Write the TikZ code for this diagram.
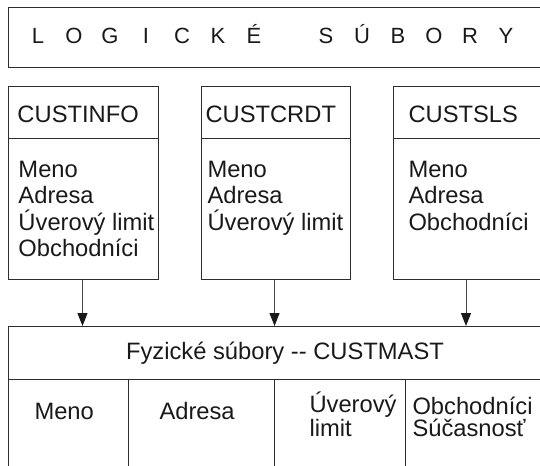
\documentclass[tikz,border=0pt]{standalone}
\usepackage{fontspec}
\setmainfont{Liberation Sans}
\usetikzlibrary{arrows.meta}

\definecolor{boxline}{RGB}{45,45,45}
\definecolor{arrline}{RGB}{70,70,70}
\definecolor{inktext}{RGB}{25,25,25}

\tikzset{every picture/.style={line width=0.75pt}}
\tikzset{
	filebox/.style={draw=boxline, anchor=north west, inner sep=0pt},
	lbl/.style={anchor=base west, inner sep=0pt, text=inktext, font=\fontsize{17.8}{20}\selectfont},
	twolbl/.style={lbl, align=left, font=\fontsize{17.8}{16.4}\selectfont},
	titlechar/.style={anchor=base, inner sep=0pt, text=inktext, font=\fontsize{16.5}{18}\selectfont},
	feed/.style={draw=arrline, -{Triangle[length=9.75pt,width=7.5pt,color=inktext]}}
}

\begin{document}
\begin{tikzpicture}[x=0.75pt,y=0.75pt,yscale=-1,xscale=1]
	\useasboundingbox (0,0) rectangle (540,465);
	\clip (0,0) rectangle (540,465);

	%Shape: Rectangle (title)
	\node[filebox, minimum width=414pt, minimum height=45pt] (logic) at (8,7) {};
	% Text Node
	\foreach \ch [count=\i from 0] in {L,O,G,I,C,K,É}
		\node[titlechar] (ta\i) at (38+36*\i,43) {\ch};
	\foreach \ch [count=\i from 8] in {S,Ú,B,O,R,Y}
		\node[titlechar] (tb\i) at (38+36*\i,43) {\ch};

	%Shape: Rectangle (CUSTINFO)
	\node[filebox, minimum width=112.5pt, minimum height=144.75pt] (custinfo) at (8,86) {};
	\draw[boxline] (8,138) -- (158,138);
	%Shape: Rectangle (CUSTCRDT)
	\node[filebox, minimum width=111.75pt, minimum height=144.75pt] (custcrdt) at (201,86) {};
	\draw[boxline] (201,138) -- (350,138);
	%Shape: Rectangle (CUSTSLS)
	\node[filebox, minimum width=125.25pt, minimum height=144.75pt] (custsls) at (393,86) {};
	\draw[boxline] (393,138) -- (560,138);

	% Text Node
	\node[lbl] (hinfo) at (17,122) {CUSTINFO};
	\node[lbl] (hcrdt) at (205,122) {CUSTCRDT};
	\node[lbl] (hsls) at (408,122) {CUSTSLS};
	\foreach \t [count=\i from 0] in {Meno,Adresa,Úverový limit,Obchodníci}
		\node[lbl] (info\i) at (18,177+26.5*\i) {\t};
	\foreach \t [count=\i from 0] in {Meno,Adresa,Úverový limit}
		\node[lbl] (crdt\i) at (207,177+26.5*\i) {\t};
	\foreach \t [count=\i from 0] in {Meno,Adresa,Obchodníci}
		\node[lbl] (sls\i) at (408,177+26.5*\i) {\t};

	%Shape: Rectangle (CUSTMAST)
	\node[filebox, minimum width=414pt, minimum height=115.5pt] (custmast) at (8,326) {};
	\draw[boxline] (8,379) -- (560,379);
	\draw[boxline] (128,379) -- (128,480);
	\draw[boxline] (274,379) -- (274,480);
	\draw[boxline] (405,379) -- (405,480);

	% Text Node
	\node[lbl, anchor=base] (phys) at (285,359) {Fyzické súbory -{}- CUSTMAST};
	\node[lbl] (fname) at (34,419.5) {Meno};
	\node[lbl] (faddr) at (159,419.5) {Adresa};
	\node[twolbl] (flimit) at (309,436) {Úverový\\limit};
	\node[twolbl] (fsales) at (412,436) {Obchodníci\\Súčasnosť};

	%Straight Lines (feeds)
	\draw[feed] ([xshift=-0.75pt]custinfo.south) -- ([xshift=-0.75pt]custinfo.south |- custmast.north);
	\draw[feed] ([xshift=-1.1pt]custcrdt.south) -- ([xshift=-1.1pt]custcrdt.south |- custmast.north);
	\draw[feed] ([xshift=54.75pt]custsls.south west) -- ([xshift=54.75pt]custsls.south west |- custmast.north);

\end{tikzpicture}
\end{document}
